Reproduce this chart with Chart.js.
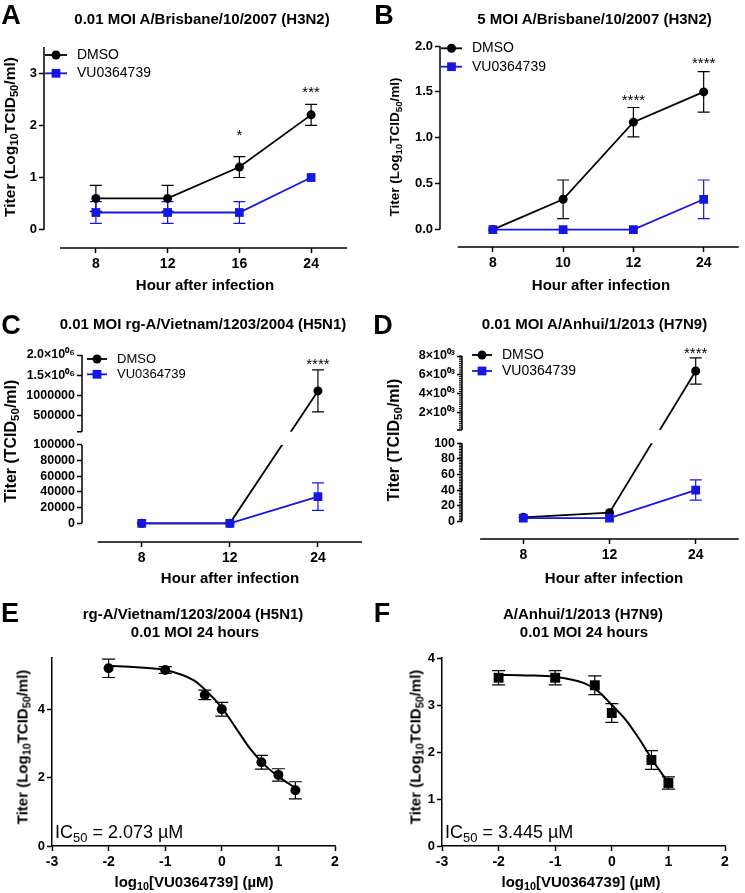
<!DOCTYPE html>
<html>
<head>
<meta charset="utf-8">
<title>VU0364739 influenza titers</title>
<script src="https://cdn.jsdelivr.net/npm/chart.js@4.4.1/dist/chart.umd.min.js"></script>
<style>
  html, body { margin: 0; padding: 0; background: #fff; }
  #fig { position: relative; width: 745px; height: 893px; overflow: hidden;
         font-family: "Liberation Sans", Arial, Helvetica, sans-serif; color: #000; }
  #fig canvas { position: absolute; }
  .t { position: absolute; white-space: nowrap; line-height: 1; transform: translate(-50%, -50%); }
  .t.b { font-weight: bold; }
  .t.l { transform: translate(0, -50%); }
  .t.r { transform: translate(-50%, -50%) rotate(-90deg); }
  .t sub { font-size: 72%; line-height: 0; vertical-align: -0.28em; }
</style>
</head>
<body>
<div id="fig">
  <canvas id="cA" width="372" height="298" style="left:0;top:0"></canvas>
  <canvas id="cB" width="373" height="298" style="left:372px;top:0"></canvas>
  <canvas id="cC" width="372" height="298" style="left:0;top:298px"></canvas>
  <canvas id="cD" width="373" height="298" style="left:372px;top:298px"></canvas>
  <canvas id="cE" width="372" height="297" style="left:0;top:596px"></canvas>
  <canvas id="cF" width="373" height="297" style="left:372px;top:596px"></canvas>
</div>
<script>
var FONT = "'Liberation Sans', Arial, Helvetica, sans-serif";
var BLUE = '#1616e4';

// A - 0.01 MOI A/Brisbane/10/2007 (H3N2), log10 titer
var hoursA = ['8', '12', '16', '24'];
var dmsoA = [0.6, 0.6, 1.2, 2.2];
var dmsoErrA = [0.25, 0.25, 0.2, 0.2];
var vuA = [0.33, 0.33, 0.33, 1.0];
var vuErrA = [0.21, 0.21, 0.21, 0];
var starsA = ['', '', '*', '***'];
var starYA = [null, null, 1.88, 2.71];
var yTicksA = [0, 1, 2, 3];

// B - 5 MOI A/Brisbane/10/2007 (H3N2), log10 titer
var hoursB = ['8', '10', '12', '24'];
var dmsoB = [0, 0.33, 1.17, 1.5];
var dmsoErrB = [0, 0.21, 0.16, 0.22];
var vuB = [0, 0, 0, 0.33];
var vuErrB = [0, 0, 0, 0.21];
var starsB = ['', '', '****', '****'];
var starYB = [null, null, 1.45, 1.85];
var yTicksB = [0, 0.5, 1, 1.5, 2];

// C - 0.01 MOI rg-A/Vietnam/1203/2004 (H5N1), TCID50/ml
var hoursC = ['8', '12', '24'];
var dmsoC = [0, 0, 1110000];
var dmsoErrC = [0, 0, 520000];
var vuC = [0, 0, 34000];
var vuErrC = [0, 0, 17500];
var starsC = ['', '', '****'];
var starYC = [null, null, 1860000];
var yTicksC = [0, 20000, 40000, 60000, 80000, 100000, 500000, 1000000, 1500000, 2000000];

// D - 0.01 MOI A/Anhui/1/2013 (H7N9), TCID50/ml
var hoursD = ['8', '12', '24'];
var dmsoD = [5, 11, 6400];
var dmsoErrD = [0, 0, 1400];
var vuD = [4, 4, 40];
var vuErrD = [0, 0, 13];
var starsD = ['', '', '****'];
var starYD = [null, null, 8700];
var yTicksD = [0, 20, 40, 60, 80, 100, 2000, 4000, 6000, 8000];

// E - dose response H5N1, 24 h
var dosesE = [-2, -1, -0.3, 0, 0.7, 1, 1.3];
var titerE = [5.2, 5.15, 4.42, 4.0, 2.45, 2.08, 1.63];
var errE = [0.27, 0.1, 0.14, 0.2, 0.2, 0.18, 0.25];
var fitXE = [-2, -1.5, -1, -0.5, -0.25, 0, 0.25, 0.5, 0.75, 1, 1.3];
var fitYE = [5.27, 5.23, 5.15, 4.85, 4.5, 4.05, 3.45, 2.85, 2.38, 2.03, 1.7];
var yTicksE = [0, 2, 4];

// F - dose response H7N9, 24 h
var dosesF = [-2, -1, -0.3, 0, 0.7, 1];
var titerF = [3.58, 3.58, 3.42, 2.83, 1.83, 1.34];
var errF = [0.15, 0.15, 0.2, 0.2, 0.2, 0.13];
var fitXF = [-2, -1.5, -1, -0.5, -0.25, 0, 0.25, 0.5, 0.75, 1];
var fitYF = [3.64, 3.63, 3.6, 3.47, 3.3, 3.0, 2.68, 2.25, 1.77, 1.35];
var yTicksF = [0, 1, 2, 3, 4];

var doseTicks = [-3, -2, -1, 0, 1, 2];

Chart.defaults.font.family = FONT;
Chart.defaults.color = '#000';

// y axis with a break: each segment maps a value range onto a slice of the axis height
class BrokenScale extends Chart.LinearScale {
  determineDataLimits() {
    var segs = this.options.segments;
    this.min = segs[0].min;
    this.max = segs[segs.length - 1].max;
  }
  buildTicks() { return []; }
  segFor(v) {
    var segs = this.options.segments;
    for (var i = 0; i < segs.length - 1; i++) if (v <= segs[i].max) return segs[i];
    return segs[segs.length - 1];
  }
  getPixelForValue(v) {
    var s = this.segFor(v);
    var f = s.from + (v - s.min) / (s.max - s.min) * (s.to - s.from);
    return this.bottom - f * (this.bottom - this.top);
  }
  getValueForPixel(p) {
    var f = (this.bottom - p) / (this.bottom - this.top);
    var segs = this.options.segments, s = segs[segs.length - 1];
    for (var i = 0; i < segs.length; i++) if (f <= segs[i].to) { s = segs[i]; break; }
    return s.min + (f - s.from) / (s.to - s.from) * (s.max - s.min);
  }
}
BrokenScale.id = 'broken';
BrokenScale.defaults = Chart.LinearScale.defaults;
Chart.register(BrokenScale);

// error bars, detached axes, axis break, significance stars and legend
var prism = {
  id: 'prism',
  beforeDatasetsDraw: function (chart) {
    var ctx = chart.ctx, ys = chart.scales.y;
    chart.data.datasets.forEach(function (ds, i) {
      if (!ds.errors) return;
      var pts = chart.getDatasetMeta(i).data, w = ds.capWidth || 6;
      ctx.save();
      ctx.strokeStyle = ds.borderColor;
      ctx.lineWidth = 1.2;
      ctx.beginPath();
      pts.forEach(function (pt, j) {
        var e = ds.errors[j];
        if (!e) return;
        var v = ds.data[j].y;
        var hi = ys.getPixelForValue(v + e), lo = ys.getPixelForValue(v - e);
        ctx.moveTo(pt.x, hi); ctx.lineTo(pt.x, lo);
        ctx.moveTo(pt.x - w, hi); ctx.lineTo(pt.x + w, hi);
        ctx.moveTo(pt.x - w, lo); ctx.lineTo(pt.x + w, lo);
      });
      ctx.stroke();
      ctx.restore();
    });
  },
  afterDatasetsDraw: function (chart, args, opts) {
    var ctx = chart.ctx, ys = chart.scales.y, xs = chart.scales.x, area = chart.chartArea;
    ctx.save();
    if (opts.axes) {
      var segs = ys.options.segments, h = ys.bottom - ys.top;
      var spans = segs ? segs.map(function (s) { return [ys.bottom - s.from * h, ys.bottom - s.to * h]; })
                       : [[ys.getPixelForValue(0), ys.top]];
      ctx.fillStyle = '#fff';
      for (var i = 1; i < spans.length; i++) {
        ctx.fillRect(area.left + 1, spans[i][0], area.right - area.left, spans[i - 1][1] - spans[i][0]);
      }
      ctx.strokeStyle = '#000';
      ctx.lineWidth = 1.5;
      ctx.beginPath();
      spans.forEach(function (sp, k) {
        ctx.moveTo(area.left, sp[0]); ctx.lineTo(area.left, sp[1]);
        if (k > 0) { ctx.moveTo(area.left - 5, sp[0]); ctx.lineTo(area.left, sp[0]); }
      });
      ctx.moveTo(xs.getPixelForValue(opts.axes[0]), area.bottom);
      ctx.lineTo(xs.getPixelForValue(opts.axes[1]), area.bottom);
      ctx.stroke();
      if (opts.minor) {
        ctx.lineWidth = 1;
        ctx.beginPath();
        opts.minor.forEach(function (m) {
          for (var v = m[0]; v <= m[1]; v += m[2]) {
            var p = ys.getPixelForValue(v);
            ctx.moveTo(area.left - 3, p); ctx.lineTo(area.left, p);
          }
        });
        ctx.stroke();
      }
    }
    chart.data.datasets.forEach(function (ds, i) {
      if (!ds.stars) return;
      var pts = chart.getDatasetMeta(i).data;
      ctx.fillStyle = '#000';
      ctx.font = '15px ' + FONT;
      ctx.textAlign = 'center';
      ctx.textBaseline = 'alphabetic';
      ds.stars.forEach(function (s, j) {
        if (s) ctx.fillText(s, pts[j].x, ys.getPixelForValue(ds.starY[j]) + 8.5);
      });
    });
    var L = opts.legend;
    if (L) {
      var k = 0;
      chart.data.datasets.forEach(function (ds) {
        var x0 = area.left + L.dx, y0 = area.top + L.dy + k * L.row;
        ctx.strokeStyle = ds.borderColor;
        ctx.lineWidth = ds.borderWidth;
        ctx.beginPath();
        ctx.moveTo(x0, y0); ctx.lineTo(x0 + L.line, y0);
        ctx.stroke();
        ctx.fillStyle = ds.backgroundColor;
        Chart.helpers.drawPoint(ctx, { pointStyle: ds.pointStyle, radius: ds.pointRadius, rotation: 0, borderWidth: 0 },
          x0 + L.line / 2, y0);
        ctx.fillStyle = '#000';
        ctx.font = L.size + 'px ' + FONT;
        ctx.textAlign = 'left';
        ctx.textBaseline = 'middle';
        ctx.fillText(ds.label, x0 + L.text, y0);
        k++;
      });
    }
    ctx.restore();
  }
};
Chart.register(prism);

function tickGrid() {
  return { drawOnChartArea: false, drawTicks: true, tickLength: 5, tickColor: '#000', tickWidth: 1.5 };
}

// box = chart area inside the canvas: [left, top, right, bottom]
function timeChart(id, o) {
  var canvas = document.getElementById(id), H = canvas.height, W = canvas.width, n = o.hours.length;
  function pts(vals) { return vals.map(function (v, i) { return { x: i, y: v }; }); }
  return new Chart(canvas, {
    type: 'line',
    data: {
      datasets: [
        { label: 'DMSO', data: pts(o.dmso), errors: o.dmsoErr, stars: o.stars, starY: o.starY, order: 2,
          borderColor: '#000', backgroundColor: '#000', borderWidth: 1.8,
          pointStyle: 'circle', pointRadius: 4.5, pointBorderWidth: 0 },
        { label: 'VU0364739', data: pts(o.vu), errors: o.vuErr, order: 1,
          borderColor: BLUE, backgroundColor: BLUE, borderWidth: 1.8,
          pointStyle: 'rect', pointRadius: 6.2, pointBorderWidth: 0 }
      ]
    },
    options: {
      responsive: false,
      animation: false,
      events: [],
      layout: { padding: { left: 0, top: o.box[1], right: W - o.box[2], bottom: 0 } },
      scales: {
        x: {
          type: 'linear', min: o.xMin, max: n - 0.5,
          afterBuildTicks: function (s) { s.ticks = o.hours.map(function (h, i) { return { value: i }; }); },
          afterFit: function (s) { s.height = H - o.box[3]; },
          grid: tickGrid(),
          border: { display: false },
          ticks: { autoSkip: false, maxRotation: 0, padding: 3, font: { size: 14, weight: 'bold' },
                   callback: function (v) { return o.hours[v]; } }
        },
        y: {
          type: o.segments ? 'broken' : 'linear', min: o.yMin, max: o.yMax, segments: o.segments,
          afterBuildTicks: function (s) { s.ticks = o.yTicks.map(function (v) { return { value: v }; }); },
          afterFit: function (s) { s.width = o.box[0]; },
          grid: tickGrid(),
          border: { display: false },
          ticks: { autoSkip: false, padding: 2, font: { size: o.ySize, weight: 'bold' }, callback: o.yLabel }
        }
      },
      plugins: {
        legend: { display: false },
        tooltip: { enabled: false },
        prism: { axes: [-0.5, n - 0.5], legend: o.legend, minor: o.minor }
      }
    }
  });
}

function doseChart(id, o) {
  var canvas = document.getElementById(id), H = canvas.height, W = canvas.width;
  return new Chart(canvas, {
    type: 'line',
    data: {
      datasets: [
        { label: 'fit', data: o.fitX.map(function (x, i) { return { x: x, y: o.fitY[i] }; }),
          borderColor: '#000', borderWidth: 2, pointRadius: 0, cubicInterpolationMode: 'monotone', order: 2 },
        { label: 'titer', data: o.doses.map(function (x, i) { return { x: x, y: o.titer[i] }; }),
          errors: o.err, capWidth: 6.5, showLine: false, order: 1,
          borderColor: '#000', backgroundColor: '#000',
          pointStyle: o.marker, pointRadius: o.marker === 'rect' ? 7 : 5, pointBorderWidth: 0 }
      ]
    },
    options: {
      responsive: false,
      animation: false,
      events: [],
      layout: { padding: { left: 0, top: o.box[1], right: W - o.box[2], bottom: 0 } },
      scales: {
        x: {
          type: 'linear', min: -3, max: 2,
          afterBuildTicks: function (s) { s.ticks = doseTicks.map(function (v) { return { value: v }; }); },
          afterFit: function (s) { s.height = H - o.box[3]; },
          grid: tickGrid(),
          border: { display: true, color: '#000', width: 1.5 },
          ticks: { autoSkip: false, maxRotation: 0, padding: 3, font: { size: 14, weight: 'bold' },
                   callback: function (v) { return String(v); } }
        },
        y: {
          type: 'linear', min: 0, max: o.yMax,
          afterBuildTicks: function (s) { s.ticks = o.yTicks.map(function (v) { return { value: v }; }); },
          afterFit: function (s) { s.width = o.box[0]; },
          grid: tickGrid(),
          border: { display: true, color: '#000', width: 1.5 },
          ticks: { autoSkip: false, padding: 2, font: { size: 13, weight: 'bold' },
                   callback: function (v) { return String(v); } }
        }
      },
      plugins: { legend: { display: false }, tooltip: { enabled: false } }
    }
  });
}

timeChart('cA', {
  hours: hoursA, dmso: dmsoA, dmsoErr: dmsoErrA, vu: vuA, vuErr: vuErrA, stars: starsA, starY: starYA,
  yTicks: yTicksA, yMin: -0.35, yMax: 3.5, ySize: 13, xMin: -0.723, box: [44, 47, 347, 248],
  yLabel: function (v) { return String(v); },
  legend: { dx: 1, dy: 8, row: 18.3, line: 22, text: 32, size: 14 }
});
timeChart('cB', {
  hours: hoursB, dmso: dmsoB, dmsoErr: dmsoErrB, vu: vuB, vuErr: vuErrB, stars: starsB, starY: starYB,
  yTicks: yTicksB, yMin: -0.19, yMax: 2, ySize: 13, xMin: -0.752, box: [68, 46, 372, 247],
  yLabel: function (v) { return v.toFixed(1); },
  legend: { dx: 1, dy: 2.3, row: 18.4, line: 21, text: 31, size: 14 }
});
timeChart('cC', {
  hours: hoursC, dmso: dmsoC, dmsoErr: dmsoErrC, vu: vuC, vuErr: vuErrC, stars: starsC, starY: starYC,
  yTicks: yTicksC, ySize: 12.5, xMin: -0.678, box: [82, 57, 362, 244],
  segments: [{ min: 0, max: 100000, from: 0.1, to: 0.519 }, { min: 100000, max: 2000000, from: 0.59, to: 1 }],
  yLabel: function (v) { return v >= 1500000 ? (v / 1e6).toFixed(1) + '×10⁰⁶' : String(v); },
  legend: { dx: 5, dy: 4, row: 15.3, line: 20, text: 30, size: 13 }
});
timeChart('cD', {
  hours: hoursD, dmso: dmsoD, dmsoErr: dmsoErrD, vu: vuD, vuErr: vuErrD, stars: starsD, starY: starYD,
  yTicks: yTicksD, ySize: 12.5, xMin: -0.711, box: [90, 58, 372, 241],
  segments: [{ min: 0, max: 100, from: 0.097, to: 0.523 }, { min: 100, max: 8000, from: 0.596, to: 1 }],
  minor: [[200, 8000, 200], [0, 100, 2]],
  yLabel: function (v) { return v >= 2000 ? (v / 1000) + '×10⁰³' : String(v); },
  legend: { dx: 10, dy: -1, row: 16, line: 20, text: 30, size: 14 }
});
doseChart('cE', {
  doses: dosesE, titer: titerE, err: errE, fitX: fitXE, fitY: fitYE, yTicks: yTicksE, yMax: 5.5,
  marker: 'circle', box: [52, 62, 335, 250]
});
doseChart('cF', {
  doses: dosesF, titer: titerF, err: errF, fitX: fitXF, fitY: fitYF, yTicks: yTicksF, yMax: 4,
  marker: 'rect', box: [70, 62, 353, 250]
});

// figure text: panel letters, titles, axis titles
var LOG_TITLE = 'Titer (Log<sub>10</sub>TCID<sub>50</sub>/ml)';
var TC_TITLE = 'Titer (TCID<sub>50</sub>/ml)';
var HOUR = 'Hour after infection';
var DOSE = 'log<sub>10</sub>[VU0364739] (µM)';
var texts = [
  ['A', 11, 15, 'b', 27], ['B', 384, 15, 'b', 27], ['C', 11, 325, 'b', 27],
  ['D', 383, 325, 'b', 27], ['E', 10, 613, 'b', 27], ['F', 382, 613, 'b', 27],
  ['0.01 MOI A/Brisbane/10/2007 (H3N2)', 202, 18, 'b', 15],
  ['5 MOI A/Brisbane/10/2007 (H3N2)', 594.5, 18, 'b', 15],
  ['0.01 MOI rg-A/Vietnam/1203/2004 (H5N1)', 203, 323, 'b', 15],
  ['0.01 MOI A/Anhui/1/2013 (H7N9)', 594.5, 323, 'b', 15],
  ['rg-A/Vietnam/1203/2004 (H5N1)', 193, 612.5, 'b', 15],
  ['0.01 MOI 24 hours', 195, 631, 'b', 15],
  ['A/Anhui/1/2013 (H7N9)', 583, 612.5, 'b', 15],
  ['0.01 MOI 24 hours', 584, 631, 'b', 15],
  [HOUR, 205, 284, 'b', 15], [HOUR, 601, 284, 'b', 15],
  [HOUR, 230, 577, 'b', 15], [HOUR, 614, 577, 'b', 15],
  [DOSE, 194, 881, 'b', 15], [DOSE, 581, 881, 'b', 15],
  [LOG_TITLE, 10, 137, 'b r', 15.5], [LOG_TITLE, 394.5, 147, 'b r', 13.5],
  [TC_TITLE, 11, 441, 'b r', 16], [TC_TITLE, 393.5, 440, 'b r', 16],
  [LOG_TITLE, 22, 747, 'b r', 15], [LOG_TITLE, 414.5, 747, 'b r', 15],
  ['IC<sub>50</sub> = 2.073 µM', 55, 831.5, 'l', 18],
  ['IC<sub>50</sub> = 3.445 µM', 445, 831.5, 'l', 18]
];
var fig = document.getElementById('fig');
texts.forEach(function (t) {
  var d = document.createElement('div');
  d.className = 't ' + t[3];
  d.style.left = t[1] + 'px';
  d.style.top = t[2] + 'px';
  d.style.fontSize = t[4] + 'px';
  d.innerHTML = t[0];
  fig.appendChild(d);
});
</script>
</body>
</html>
